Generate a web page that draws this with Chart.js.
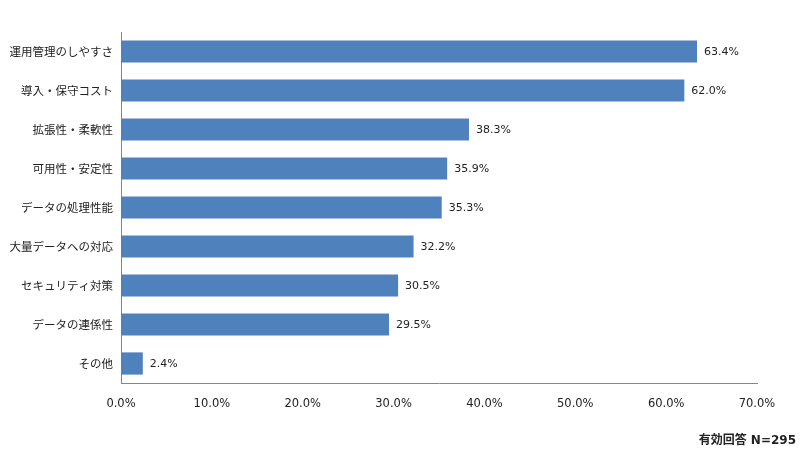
<!DOCTYPE html>
<html lang="ja">
<head>
<meta charset="utf-8">
<script src="https://cdn.jsdelivr.net/npm/chart.js@4"></script>
<style>
  html, body { margin: 0; padding: 0; background: #fff; }
  #wrap { position: relative; width: 800px; height: 452px; }
  #note {
    position: absolute; right: 4px; top: 430px;
    font-family: 'DejaVu Sans', 'Noto Sans CJK JP', sans-serif;
    font-size: 12px; font-weight: bold; color: #222;
  }
</style>
</head>
<body>
<div id="wrap">
  <canvas id="chart"></canvas>
  <div id="note">有効回答 N=295</div>
</div>
<script>
const categories = ['運用管理のしやすさ', '導入・保守コスト', '拡張性・柔軟性', '可用性・安定性',
  'データの処理性能', '大量データへの対応', 'セキュリティ対策', 'データの連係性', 'その他'];
const values = [63.4, 62.0, 38.3, 35.9, 35.3, 32.2, 30.5, 29.5, 2.4];
const xTicks = [0, 10, 20, 30, 40, 50, 60, 70];

const fontFamily = "'DejaVu Sans', 'Noto Sans CJK JP', sans-serif";
const jpFont = "'Noto Sans CJK JP', sans-serif";

// draw value labels at the end of each bar
const valueLabels = {
  id: 'valueLabels',
  afterDatasetsDraw(chart) {
    const ctx = chart.ctx;
    const meta = chart.getDatasetMeta(0);
    ctx.save();
    ctx.font = '11px ' + fontFamily;
    ctx.fillStyle = '#222';
    ctx.textAlign = 'left';
    ctx.textBaseline = 'middle';
    meta.data.forEach((bar, i) => {
      ctx.fillText(values[i].toFixed(1) + '%', bar.x + 7, bar.y + 1);
    });
    ctx.restore();
  }
};

new Chart(document.getElementById('chart'), {
  type: 'bar',
  data: {
    labels: categories,
    datasets: [{
      data: values,
      backgroundColor: '#4F81BD',
      barPercentage: 0.57,
      categoryPercentage: 1.0
    }]
  },
  options: {
    indexAxis: 'y',
    responsive: true,
    maintainAspectRatio: false,
    animation: false,
    layout: { padding: { top: 32, right: 43, bottom: 29, left: 0 } },
    plugins: {
      legend: { display: false },
      tooltip: { enabled: false }
    },
    scales: {
      x: {
        min: 0,
        max: 70,
        afterBuildTicks: axis => { axis.ticks = xTicks.map(v => ({ value: v })); },
        afterFit: axis => { axis.height = 40; },
        grid: { display: false, drawTicks: false },
        border: { color: '#868686', width: 1 },
        ticks: {
          padding: 14,
          color: '#222',
          font: { family: fontFamily, size: 11.5 },
          callback: v => v.toFixed(1) + '%'
        }
      },
      y: {
        afterFit: axis => { axis.width = 121; },
        grid: { display: false, drawTicks: false },
        border: { color: '#868686', width: 1 },
        ticks: {
          padding: 8,
          color: '#222',
          font: { family: jpFont, size: 11.5 }
        }
      }
    }
  },
  plugins: [valueLabels]
});
</script>
</body>
</html>
